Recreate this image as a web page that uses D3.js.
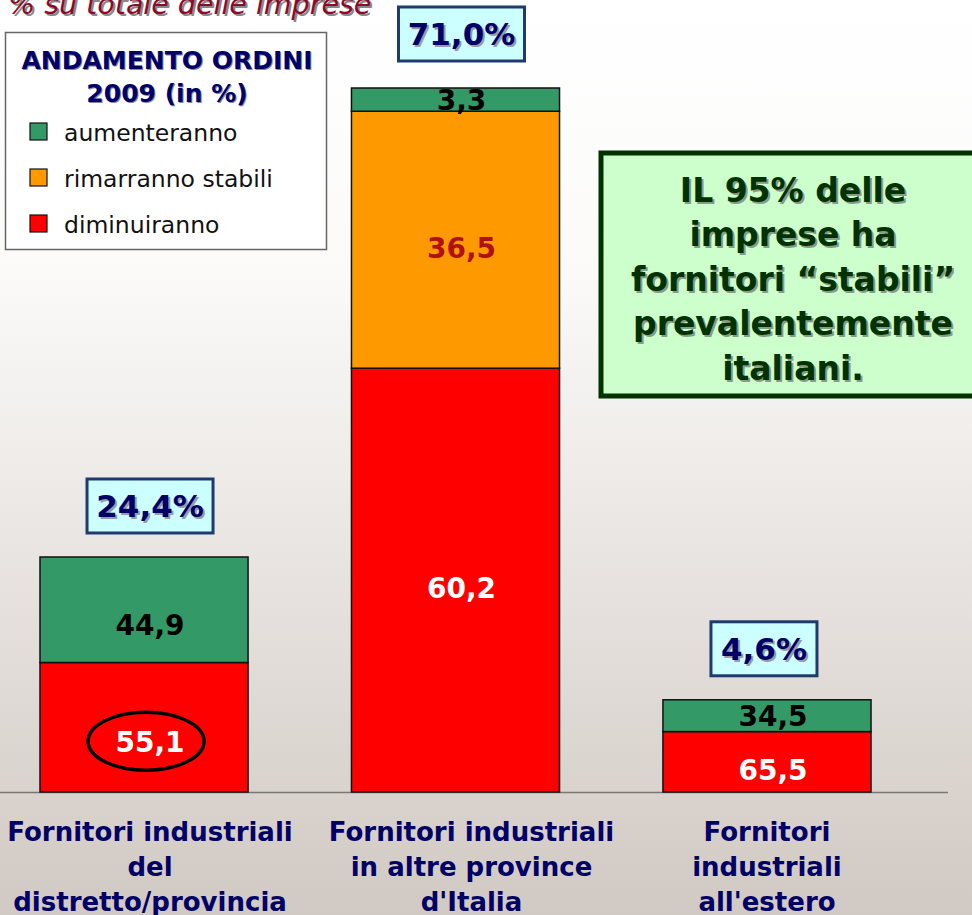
<!DOCTYPE html>
<html>
<head>
<meta charset="utf-8">
<script src="https://cdn.jsdelivr.net/npm/d3@7"></script>
<style>
  body { margin: 0; background: #fff; }
  svg { display: block; }
</style>
</head>
<body>
<div class="container"></div>
<script>
const categories = [
  ["Fornitori industriali", "del", "distretto/provincia"],
  ["Fornitori industriali", "in altre province", "d'Italia"],
  ["Fornitori", "industriali", "all'estero"]
];
const totals = [24.4, 71.0, 4.6];
// column heights as drawn in the original (small column is enlarged there)
const drawnTotals = [23.7, 71.0, 9.3];
const aumenteranno = [44.9, 3.3, 34.5];
const stabili = [0, 36.5, 0];
const diminuiranno = [55.1, 60.2, 65.5];
const seriesNames = ["aumenteranno", "rimarranno stabili", "diminuiranno"];
const seriesColors = ["#339966", "#ff9900", "#ff0000"];
const labelColors = ["#000000", "#b01010", "#ffffff"];
const note = ["IL 95% delle", "imprese ha", "fornitori \u201cstabili\u201d", "prevalentemente", "italiani."];

const W = 972, H = 915;
const fmt = v => d3.format(".1f")(v).replace(".", ",");

const svg = d3.select(".container").append("svg")
    .attr("width", W).attr("height", H);

const defs = svg.append("defs");
const bg = defs.append("linearGradient").attr("id", "bg")
    .attr("x1", 0).attr("y1", 0).attr("x2", 0).attr("y2", 1);
bg.append("stop").attr("offset", "0%").attr("stop-color", "#ffffff");
bg.append("stop").attr("offset", "30%").attr("stop-color", "#fbfaf9");
bg.append("stop").attr("offset", "100%").attr("stop-color", "#d1c9c3");
svg.append("rect").attr("width", W).attr("height", H).attr("fill", "url(#bg)");

const x = d3.scaleBand()
    .domain(d3.range(categories.length))
    .range([40, 871])
    .paddingInner(0.332)
    .paddingOuter(0);

const y = d3.scaleLinear().domain([0, 71]).range([792, 88]);

// stacked segments (bottom: diminuiranno, middle: stabili, top: aumenteranno)
const rows = totals.map((t, i) => ({
  i: i,
  diminuiranno: drawnTotals[i] * diminuiranno[i] / 100,
  stabili: drawnTotals[i] * stabili[i] / 100,
  aumenteranno: drawnTotals[i] * aumenteranno[i] / 100
}));
const keys = ["diminuiranno", "stabili", "aumenteranno"];
const raw = { diminuiranno: diminuiranno, stabili: stabili, aumenteranno: aumenteranno };
const colorOf = { aumenteranno: seriesColors[0], stabili: seriesColors[1], diminuiranno: seriesColors[2] };
const textOf = { aumenteranno: labelColors[0], stabili: labelColors[1], diminuiranno: labelColors[2] };
const stack = d3.stack().keys(keys)(rows);

// label nudges (the source places some labels below the segment middle)
const nudge = (key, i) => (i === 0 ? 15 : (key === "aumenteranno" ? 0 : 8));

const font = "Tahoma, 'DejaVu Sans', sans-serif";

// axis baseline
svg.append("line").attr("x1", 0).attr("x2", 948)
    .attr("y1", y(0) + 0.5).attr("y2", y(0) + 0.5)
    .attr("stroke", "#777").attr("stroke-width", 1.5);

stack.forEach(layer => {
  const g = svg.append("g");
  g.selectAll("rect")
    .data(layer.filter(d => d[1] - d[0] > 0))
    .enter().append("rect")
    .attr("x", d => x(d.data.i))
    .attr("width", x.bandwidth())
    .attr("y", d => y(d[1]))
    .attr("height", d => y(d[0]) - y(d[1]))
    .attr("fill", colorOf[layer.key])
    .attr("stroke", "#111").attr("stroke-width", 1.5);

  g.selectAll("text")
    .data(layer.filter(d => d[1] - d[0] > 0))
    .enter().append("text")
    .attr("x", d => x(d.data.i) + x.bandwidth() / 2 + 6)
    .attr("y", d => (y(d[0]) + y(d[1])) / 2 + nudge(layer.key, d.data.i))
    .attr("dy", "0.36em")
    .attr("text-anchor", "middle")
    .style("font-family", font).style("font-weight", "bold").style("font-size", "28px")
    .attr("fill", textOf[layer.key])
    .text(d => fmt(raw[layer.key][d.data.i]));
});

// ellipse around 55,1
{
  const seg = stack[0][0];
  svg.append("ellipse")
    .attr("cx", x(0) + x.bandwidth() / 2 + 2)
    .attr("cy", (y(seg[0]) + y(seg[1])) / 2 + 14)
    .attr("rx", 58).attr("ry", 29)
    .attr("fill", "none").attr("stroke", "#000").attr("stroke-width", 3.5);
}

// totals in boxes above each column
totals.forEach((t, i) => {
  const cx = x(i) + x.bandwidth() / 2 + (i === 2 ? -3 : 6);
  const top = y(drawnTotals[i]) - (i === 1 ? 27 : 24);
  const label = fmt(t) + "%";
  const bw = i === 2 ? 106 : 126, bh = 54;
  svg.append("rect")
    .attr("x", cx - bw / 2).attr("y", top - bh)
    .attr("width", bw).attr("height", bh)
    .attr("fill", "#ccffff").attr("stroke", "#1f3a6e").attr("stroke-width", 3);
  svg.append("text")
    .attr("x", cx + 2).attr("y", top - bh / 2 + 2).attr("dy", "0.36em")
    .attr("text-anchor", "middle")
    .style("font-family", font).style("font-weight", "bold").style("font-size", "31px")
    .attr("fill", "#9a9aa8").text(label);
  svg.append("text")
    .attr("x", cx).attr("y", top - bh / 2).attr("dy", "0.36em")
    .attr("text-anchor", "middle")
    .style("font-family", font).style("font-weight", "bold").style("font-size", "31px")
    .attr("fill", "#000066").text(label);
});

// category labels
categories.forEach((lines, i) => {
  const cx = x(i) + x.bandwidth() / 2 + [6, 16, 0][i];
  lines.forEach((l, j) => {
    svg.append("text")
      .attr("x", cx).attr("y", 832 + j * 35).attr("dy", "0.36em")
      .attr("text-anchor", "middle")
      .style("font-family", font).style("font-weight", "bold").style("font-size", "26px")
      .attr("fill", "#000066").text(l);
  });
});

// title (cut at top)
[["#888", 2], ["#8b0a2a", 0]].forEach(([c, o]) => {
  svg.append("text")
    .attr("x", 8 + o).attr("y", 14 + o)
    .style("font-family", font).style("font-style", "italic").style("font-size", "28.5px")
    .attr("fill", c).text("% su totale delle imprese");
});

// legend
const lg = svg.append("g");
lg.append("rect").attr("x", 5.5).attr("y", 32.5).attr("width", 321).attr("height", 217)
  .attr("fill", "#fff").attr("stroke", "#666").attr("stroke-width", 1.5);
["ANDAMENTO ORDINI", "2009 (in %)"].forEach((t, j) => {
  lg.append("text").attr("x", 167 + 1).attr("y", 60 + j * 33 + 1).attr("dy", "0.36em")
    .attr("text-anchor", "middle")
    .style("font-family", font).style("font-weight", "bold").style("font-size", "25px")
    .attr("fill", "#8888aa").text(t);
  lg.append("text").attr("x", 167).attr("y", 60 + j * 33).attr("dy", "0.36em")
    .attr("text-anchor", "middle")
    .style("font-family", font).style("font-weight", "bold").style("font-size", "25px")
    .attr("fill", "#000066").text(t);
});
seriesNames.forEach((n, j) => {
  lg.append("rect").attr("x", 30).attr("y", 123 + j * 46).attr("width", 17).attr("height", 17)
    .attr("fill", seriesColors[j]).attr("stroke", "#111").attr("stroke-width", 1.2);
  lg.append("text").attr("x", 64).attr("y", 133 + j * 46).attr("dy", "0.36em")
    .style("font-family", font).style("font-size", "23.5px")
    .attr("fill", "#111").text(n);
});

// note box
svg.append("rect").attr("x", 601).attr("y", 153).attr("width", 380).attr("height", 243)
  .attr("fill", "#ccffcc").attr("stroke", "#003300").attr("stroke-width", 5);
note.forEach((t, j) => {
  [["#8a9a8a", 2], ["#003300", 0]].forEach(([c, o]) => {
    svg.append("text")
      .attr("x", 793 + o).attr("y", 190 + j * 44.5 + o).attr("dy", "0.36em")
      .attr("text-anchor", "middle")
      .style("font-family", font).style("font-weight", "bold").style("font-size", "33px")
      .attr("fill", c).text(t);
  });
});
</script>
</body>
</html>
